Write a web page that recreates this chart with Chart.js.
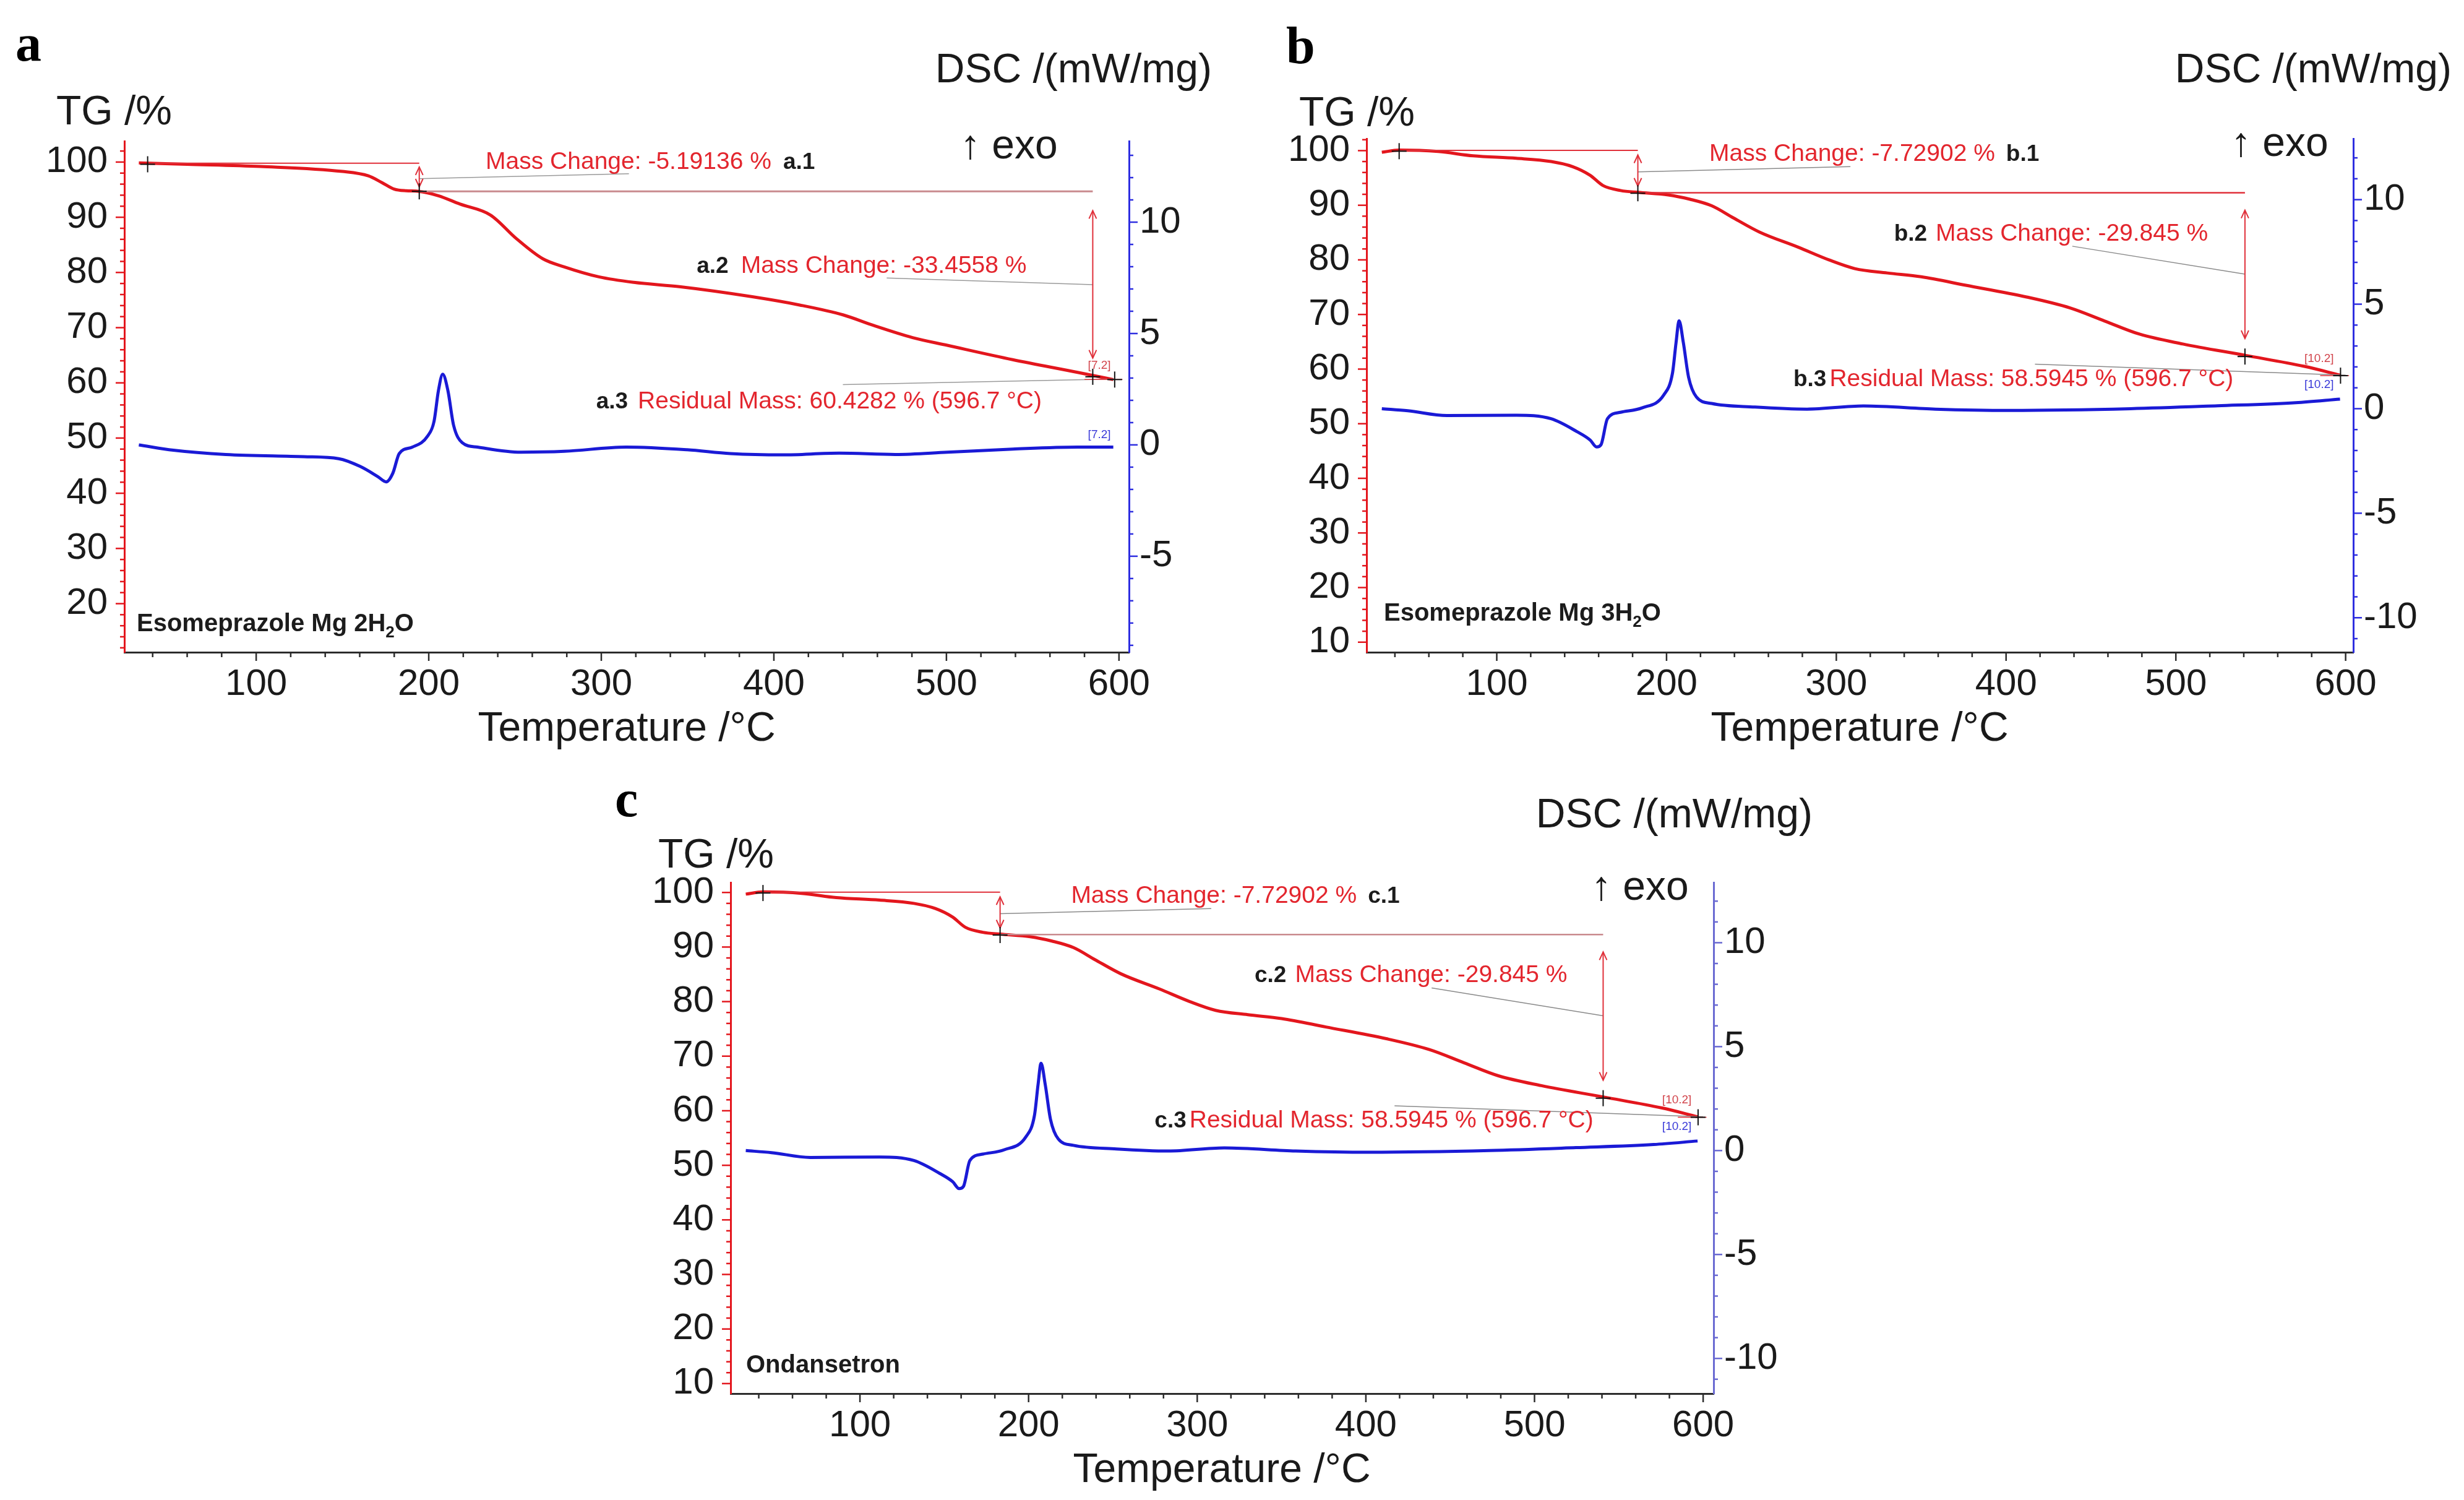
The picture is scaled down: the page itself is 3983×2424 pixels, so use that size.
<!DOCTYPE html>
<html>
<head>
<meta charset="utf-8">
<title>TG / DSC</title>
<script src="https://cdn.jsdelivr.net/npm/chart.js@4.4.1/dist/chart.umd.min.js"></script>
<style>
  html, body { margin: 0; padding: 0; background: #fff; }
  body { width: 3983px; height: 2424px; position: relative; overflow: hidden; }
  canvas { position: absolute; }
</style>
</head>
<body>
<canvas id="chartA" width="1990" height="1230" style="left:0px;top:0px;width:1990px;height:1230px"></canvas>
<canvas id="chartB" width="1993" height="1230" style="left:1990px;top:0px;width:1993px;height:1230px"></canvas>
<canvas id="chartC" width="2000" height="1184" style="left:960px;top:1240px;width:2000px;height:1184px"></canvas>
<script>
// tick labels
const xTicks = [100, 200, 300, 400, 500, 600];
const tgTicksA = [20, 30, 40, 50, 60, 70, 80, 90, 100];
const tgTicksB = [10, 20, 30, 40, 50, 60, 70, 80, 90, 100];
const dscTicksA = [-5, 0, 5, 10];
const dscTicksB = [-10, -5, 0, 5, 10];

// a: Esomeprazole Mg 2H2O
const tempTgA = [32, 60, 102.5, 150, 165, 172.8, 180, 187, 194.3, 205.6, 218, 235.8, 250.9, 266, 278.6, 298.6, 318.8, 346, 387.5, 415, 440.3, 457.8, 480.4, 500.5, 538.4, 576, 596.7];
const tgA = [99.85, 99.6, 99.2, 98.3, 97.5, 96.3, 95.1, 94.8, 94.7, 93.9, 92.4, 90.4, 86.1, 82.5, 81.0, 79.2, 78.2, 77.4, 75.6, 74.1, 72.3, 70.4, 68.2, 66.8, 64.2, 61.9, 60.6];
const tempDscA = [32, 52, 82.4, 127.6, 147.8, 160.3, 170.4, 175.4, 179.2, 182.9, 190.5, 199.3, 203.1, 205.6, 208.1, 211.1, 214.4, 219.4, 228.3, 253.4, 278.6, 314.4, 349.7, 374.9, 405, 437.8, 470.4, 500.5, 538.4, 576, 596.7];
const dscA = [0.0, -0.24, -0.43, -0.53, -0.62, -0.97, -1.42, -1.66, -1.27, -0.39, -0.1, 0.39, 1.07, 2.43, 3.17, 2.44, 0.88, 0.1, -0.1, -0.33, -0.29, -0.1, -0.22, -0.39, -0.45, -0.37, -0.43, -0.33, -0.19, -0.1, -0.1];

// b: Esomeprazole Mg 3H2O (c shows the same curves)
const tempTgB = [32.3, 42.5, 65.5, 86, 111.5, 132, 144.7, 154.9, 162.6, 172.9, 183.1, 201, 213.8, 226.6, 239.3, 254.7, 277.7, 295.6, 310.9, 330, 350, 376.3, 412.1, 437.7, 458.1, 478.6, 504.1, 541.2, 575.7, 596.7];
const tgB = [99.7, 100.1, 99.84, 99.05, 98.6, 98.0, 97.06, 95.5, 93.6, 92.7, 92.36, 91.9, 91.1, 89.9, 87.7, 85.1, 82.3, 80.0, 78.4, 77.6, 76.9, 75.35, 73.2, 71.2, 68.8, 66.4, 64.6, 62.5, 60.5, 58.9];
const tempDscB = [32.3, 47.6, 70.6, 111.5, 132, 147.3, 155, 158.8, 161.4, 165.2, 172.9, 185.6, 198.4, 203.5, 205.6, 207.4, 209.9, 213, 217.6, 226.6, 252.1, 282.8, 316, 358.4, 401.9, 473.3, 524.6, 570.6, 596.7];
const dscB = [0.0, -0.1, -0.33, -0.31, -0.48, -1.1, -1.5, -1.83, -1.72, -0.48, -0.17, 0.04, 0.66, 1.7, 3.16, 4.2, 3.16, 1.5, 0.56, 0.25, 0.08, -0.02, 0.13, -0.02, -0.08, 0.0, 0.14, 0.29, 0.46];

// evaluation marks, in temperature / TG units
const crossesA = [[37.1, 99.6], [194.5, 94.7], [584.8, 61.1], [597.5, 60.6]];
const crossesB = [[42.5, 99.9], [183.1, 92.2], [540.7, 62.3], [597, 58.8]];
const stepsA = [[194.5, 99.1, 95.5], [584.8, 91.2, 64.5]];
const stepsB = [[183.1, 99.2, 93.5], [540.7, 89.1, 65.6]];

const RED = '#e3161d';
const BLUE = '#1a1ad6';
const SANS = '"Liberation Sans", Arial, sans-serif';
const STYLE = {
  red: ['39px ' + SANS, '#e3262e'],
  id: ['bold 37px ' + SANS, '#1c1c1c'],
  tinyR: ['19px ' + SANS, '#d2454c'],
  tinyB: ['19px ' + SANS, '#3a3ad8'],
  title: ['66px ' + SANS, '#1a1a1a'],
  name: ['bold 40px ' + SANS, '#1c1c1c'],
  sub: ['bold 26px ' + SANS, '#1c1c1c', 10],
  letter: ['bold 84px "Liberation Serif", "Times New Roman", serif', '#000']
};

function marksA() {
  return {
    crosses: crossesA,
    steps: stepsA,
    lines: [
      [37.1, 99.8, 194.5, 99.8, '#e0303a', 2],
      [194.5, 94.7, 584.8, 94.7, '#c98a8e', 3],
      [194.5, 97.0, 316, 97.9, '#9a9a9a', 1.5],
      [584.8, 77.8, 465.4, 79.0, '#9a9a9a', 1.5],
      [440, 59.7, 597.5, 60.7, '#9a9a9a', 1.5],
      [580, 60.6, 602, 60.6, '#e0303a', 1.5]
    ],
    texts: [
      { x: 233, y: 98.8, parts: [['Mass Change: -5.19136 %', 'red', 19], ['a.1', 'id']] },
      { x: 355.3, y: 79.95, parts: [['a.2', 'id', 20], ['Mass Change: -33.4558 %', 'red']] },
      { x: 297, y: 55.4, parts: [['a.3', 'id', 16], ['Residual Mass: 60.4282 % (596.7 \u00B0C)', 'red']] },
      { x: 582, y: 62.5, parts: [['[7.2]', 'tinyR']] },
      { x: 582, y: 0.29, axis: 'y1', parts: [['[7.2]', 'tinyB']] }
    ]
  };
}

function marksBC(tag, stepColor) {
  return {
    crosses: crossesB,
    steps: stepsB,
    lines: [
      [42.5, 100.05, 183.1, 100.05, '#e0303a', 2],
      [183.1, 92.3, 540.7, 92.3, stepColor, 2.5],
      [183.1, 96.1, 308.3, 97.06, '#8a8a8a', 1.5],
      [540.7, 77.4, 439, 82.5, '#8a8a8a', 1.5],
      [417, 60.9, 600, 58.9, '#8a8a8a', 1.5],
      [585, 58.8, 602, 58.8, '#e0303a', 1.5]
    ],
    texts: [
      { x: 225.2, y: 98.1, parts: [['Mass Change: -7.72902 %', 'red', 18], [tag + '.1', 'id']] },
      { x: 334, y: 83.55, parts: [[tag + '.2', 'id', 14], ['Mass Change: -29.845 %', 'red']] },
      { x: 274.7, y: 56.9, parts: [[tag + '.3', 'id', 5], ['Residual Mass: 58.5945 % (596.7 \u00B0C)', 'red']] },
      { x: 575.7, y: 61.3, parts: [['[10.2]', 'tinyR']] },
      { x: 575.7, y: 0.98, axis: 'y1', parts: [['[10.2]', 'tinyB']] }
    ]
  };
}

function drawParts(ctx, x, y, parts, align) {
  let total = 0;
  parts.forEach(function (p) {
    ctx.font = STYLE[p[1]][0];
    total += ctx.measureText(p[0]).width + (p[2] || 0);
  });
  if (align === 'right') x -= total;
  if (align === 'center') x -= total / 2;
  parts.forEach(function (p) {
    const st = STYLE[p[1]];
    ctx.font = st[0];
    ctx.fillStyle = st[1];
    ctx.textAlign = 'left';
    ctx.textBaseline = 'alphabetic';
    ctx.fillText(p[0], x, y + (st[2] || 0));
    x += ctx.measureText(p[0]).width + (p[2] || 0);
  });
}

function seg(ctx, x1, y1, x2, y2) {
  ctx.beginPath();
  ctx.moveTo(x1, y1);
  ctx.lineTo(x2, y2);
  ctx.stroke();
}

function marksPlugin(p) {
  return {
    id: 'marks',
    afterDraw: function (chart) {
      const ctx = chart.ctx, ca = chart.chartArea;
      const sx = chart.scales.x, sy = chart.scales.y, sy1 = chart.scales.y1;
      const m = p.marks;
      ctx.save();

      // axis ticks, minor and major
      ctx.lineWidth = 2.5;
      ctx.strokeStyle = '#2b2b2b';
      for (let v = 40; v <= sx.max; v += 20) {
        const px = sx.getPixelForValue(v);
        seg(ctx, px, ca.bottom, px, ca.bottom + (v % 100 === 0 ? 14 : 8));
      }
      ctx.strokeStyle = RED;
      for (let v = Math.ceil(sy.min / 2) * 2; v <= sy.max; v += 2) {
        const py = sy.getPixelForValue(v);
        seg(ctx, ca.left - (v % 10 === 0 ? 14 : 7), py, ca.left, py);
      }
      ctx.strokeStyle = p.rightColor;
      for (let v = Math.ceil(sy1.min); v <= sy1.max; v += 1) {
        const py = sy1.getPixelForValue(v);
        seg(ctx, ca.right, py, ca.right + (v % 5 === 0 ? 14 : 7), py);
      }

      // evaluation lines
      m.lines.forEach(function (l) {
        ctx.strokeStyle = l[4];
        ctx.lineWidth = l[5];
        seg(ctx, sx.getPixelForValue(l[0]), sy.getPixelForValue(l[1]), sx.getPixelForValue(l[2]), sy.getPixelForValue(l[3]));
      });
      ctx.strokeStyle = '#e0303a';
      ctx.lineWidth = 2;
      m.steps.forEach(function (s) {
        const px = sx.getPixelForValue(s[0]);
        const y1 = sy.getPixelForValue(s[1]), y2 = sy.getPixelForValue(s[2]);
        seg(ctx, px, y1, px, y2);
        ctx.beginPath();
        ctx.moveTo(px - 6, y1 + 13); ctx.lineTo(px, y1); ctx.lineTo(px + 6, y1 + 13);
        ctx.moveTo(px - 6, y2 - 13); ctx.lineTo(px, y2); ctx.lineTo(px + 6, y2 - 13);
        ctx.stroke();
      });
      ctx.strokeStyle = '#111';
      ctx.lineWidth = 2;
      m.crosses.forEach(function (c) {
        const px = sx.getPixelForValue(c[0]), py = sy.getPixelForValue(c[1]);
        seg(ctx, px - 12, py, px + 12, py);
        seg(ctx, px, py - 13, px, py + 13);
      });
      m.texts.forEach(function (t) {
        const scale = t.axis === 'y1' ? sy1 : sy;
        drawParts(ctx, sx.getPixelForValue(t.x), scale.getPixelForValue(t.y), t.parts);
      });

      // titles and labels
      p.labels.forEach(function (t) {
        drawParts(ctx, t.x, t.y, t.parts, t.align);
      });
      ctx.restore();
    }
  };
}

function makeChart(p) {
  const tg = p.tgT.map(function (t, i) { return { x: t, y: p.tg[i] }; });
  const dsc = p.dscT.map(function (t, i) { return { x: t, y: p.dsc[i] }; });
  const tickFont = { family: SANS, size: 60 };
  return new Chart(document.getElementById(p.id), {
    type: 'line',
    data: {
      datasets: [
        { label: 'TG', data: tg, yAxisID: 'y', borderColor: RED, borderWidth: 5, pointRadius: 0, fill: false, cubicInterpolationMode: 'monotone' },
        { label: 'DSC', data: dsc, yAxisID: 'y1', borderColor: BLUE, borderWidth: 5, pointRadius: 0, fill: false, cubicInterpolationMode: 'monotone' }
      ]
    },
    options: {
      responsive: false,
      animation: false,
      devicePixelRatio: 1,
      layout: { padding: { top: p.area.top, left: 0, right: 0, bottom: 0 } },
      plugins: { legend: { display: false }, tooltip: { enabled: false } },
      scales: {
        x: {
          type: 'linear', min: p.xMin, max: p.xMax,
          grid: { display: false, drawTicks: false },
          border: { display: true, color: '#2b2b2b', width: 3 },
          ticks: { autoSkip: false, maxRotation: 0, padding: 16, color: '#1a1a1a', font: tickFont },
          afterBuildTicks: function (s) { s.ticks = xTicks.map(function (v) { return { value: v }; }); },
          afterFit: function (s) { s.height = p.h - p.area.bottom; }
        },
        y: {
          type: 'linear', position: 'left', min: p.tgMin, max: p.tgMax,
          grid: { display: false, drawTicks: false },
          border: { display: true, color: RED, width: 3 },
          ticks: { autoSkip: false, padding: 27, color: '#1a1a1a', font: tickFont },
          afterBuildTicks: function (s) { s.ticks = p.tgTicks.map(function (v) { return { value: v }; }); },
          afterFit: function (s) { s.width = p.area.left; }
        },
        y1: {
          type: 'linear', position: 'right', min: p.dscMin, max: p.dscMax,
          grid: { display: false, drawTicks: false },
          border: { display: true, color: p.rightColor, width: 3 },
          ticks: { autoSkip: false, padding: 17, color: '#1a1a1a', font: tickFont },
          afterBuildTicks: function (s) { s.ticks = p.dscTicks.map(function (v) { return { value: v }; }); },
          afterFit: function (s) { s.width = p.w - p.area.right; }
        }
      }
    },
    plugins: [marksPlugin(p)]
  });
}

function nameParts(hyd) {
  return [['Esomeprazole Mg ' + hyd + 'H', 'name'], ['2', 'sub'], ['O', 'name']];
}

makeChart({
  id: 'chartA', w: 1990, h: 1230,
  area: { left: 201, top: 228, right: 1825, bottom: 1054 },
  xMin: 23.6, xMax: 605.8, tgMin: 11.2, tgMax: 103.8, dscMin: -9.31, dscMax: 13.64,
  tgTicks: tgTicksA, dscTicks: dscTicksA, rightColor: '#2e2ee0',
  tgT: tempTgA, tg: tgA, dscT: tempDscA, dsc: dscA,
  marks: marksA(),
  labels: [
    { x: 25, y: 98, parts: [['a', 'letter']] },
    { x: 91, y: 201, parts: [['TG /%', 'title']] },
    { x: 1959, y: 133, align: 'right', parts: [['DSC /(mW/mg)', 'title']] },
    { x: 1552, y: 256, parts: [['\u2191 exo', 'title']] },
    { x: 221, y: 1020, parts: nameParts('2') },
    { x: 1013, y: 1197, align: 'center', parts: [['Temperature /\u00B0C', 'title']] }
  ]
});

makeChart({
  id: 'chartB', w: 1993, h: 1230,
  area: { left: 219, top: 224, right: 1814, bottom: 1054 },
  xMin: 23.3, xMax: 604.5, tgMin: 8.16, tgMax: 102.2, dscMin: -11.65, dscMax: 12.92,
  tgTicks: tgTicksB, dscTicks: dscTicksB, rightColor: '#2e2ee0',
  tgT: tempTgB, tg: tgB, dscT: tempDscB, dsc: dscB,
  marks: marksBC('b', '#e0303a'),
  labels: [
    { x: 89, y: 102, parts: [['b', 'letter']] },
    { x: 110, y: 203, parts: [['TG /%', 'title']] },
    { x: 1973, y: 133, align: 'right', parts: [['DSC /(mW/mg)', 'title']] },
    { x: 1616, y: 252, parts: [['\u2191 exo', 'title']] },
    { x: 247, y: 1003, parts: nameParts('3') },
    { x: 1016, y: 1197, align: 'center', parts: [['Temperature /\u00B0C', 'title']] }
  ]
});

makeChart({
  id: 'chartC', w: 2000, h: 1184,
  area: { left: 221, top: 186, right: 1810, bottom: 1012 },
  xMin: 23.3, xMax: 606.2, tgMin: 8.17, tgMax: 101.84, dscMin: -11.69, dscMax: 12.9,
  tgTicks: tgTicksB, dscTicks: dscTicksB, rightColor: '#6a6ad2',
  tgT: tempTgB, tg: tgB, dscT: tempDscB, dsc: dscB,
  marks: marksBC('c', '#c98a8e'),
  labels: [
    { x: 34, y: 79, parts: [['c', 'letter']] },
    { x: 104, y: 162, parts: [['TG /%', 'title']] },
    { x: 1970, y: 97, align: 'right', parts: [['DSC /(mW/mg)', 'title']] },
    { x: 1612, y: 214, parts: [['\u2191 exo', 'title']] },
    { x: 246, y: 978, parts: [['Ondansetron', 'name']] },
    { x: 1015, y: 1155, align: 'center', parts: [['Temperature /\u00B0C', 'title']] }
  ]
});
</script>
</body>
</html>
